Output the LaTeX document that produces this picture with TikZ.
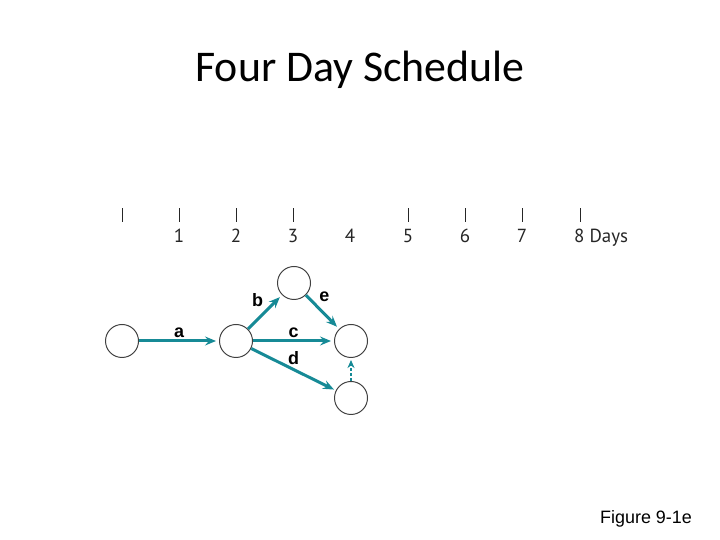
\documentclass[tikz,border=0pt]{standalone}
\usepackage{fontspec}
\setmainfont{Liberation Sans}
\newfontfamily\titlefont{Carlito}
\newfontfamily\axisfont{PT Sans}
\usetikzlibrary{arrows.meta}
\definecolor{actcol}{RGB}{22,138,150}
\tikzset{
	event/.style={circle, draw=black!75, line width=1pt, minimum size=33bp, inner sep=0pt},
	act/.style={draw=actcol, line width=3bp, -{Stealth[length=11bp, width=9bp, inset=4bp]}, shorten >=3bp},
	dummy/.style={draw=actcol, line width=1.5bp, dash pattern=on 3bp off 2bp, -{Stealth[length=8bp, width=7bp, inset=2.5bp]}, shorten >=2bp},
	lbl/.style={font=\fontsize{18}{20}\selectfont\bfseries, inner sep=2bp},
	daylbl/.style={font=\axisfont\fontsize{19}{21}\selectfont, text=black!85, inner sep=0pt},
	tick/.style={line width=0.9bp, black!85}
}
\begin{document}
\begin{tikzpicture}[x=1bp, y=1bp]
	\useasboundingbox (0, 0) rectangle (720, 540);
	\node (title) at (360, 470) {\titlefont\fontsize{44}{50}\selectfont Four Day Schedule};
	\foreach \x/\t in {122/0, 179/1, 236/2, 293/3, 408/5, 465/6, 522/7, 580/8}
		\draw[tick] (\x, 318) -- (\x, 332);
	\foreach \x/\t in {179/1, 236/2, 293/3, 350/4, 408/5, 465/6, 522/7}
		\node[daylbl, anchor=base] (day\t) at (\x, 297) {\t};
	\node[daylbl, anchor=base west] (day8) at (574, 297) {8 Days};
	\node[event] (n1) at (122, 199) {};
	\node[event] (n2) at (236, 199) {};
	\node[event] (n3) at (294, 257) {};
	\node[event] (n4) at (351, 199) {};
	\node[event] (n5) at (351, 142) {};
	\draw[act] (n1) -- node[lbl, above] (la) {a} (n2);
	\draw[act] (n2) -- node[lbl, above left, pos=0.55] (lb) {b} (n3);
	\draw[act] (n2) -- node[lbl, above] (lc) {c} (n4);
	\draw[act, shorten >=2bp] (n2) -- node[lbl, above, pos=0.5, yshift=1bp] (ld) {d} (n5);
	\draw[act] (n3) -- node[lbl, above right, pos=0.3] (le) {e} (n4);
	\draw[dummy] (n5) -- (n4);
	\node (fig) at (646, 21) {\fontsize{18}{21}\selectfont Figure 9-1e};
\end{tikzpicture}
\end{document}
